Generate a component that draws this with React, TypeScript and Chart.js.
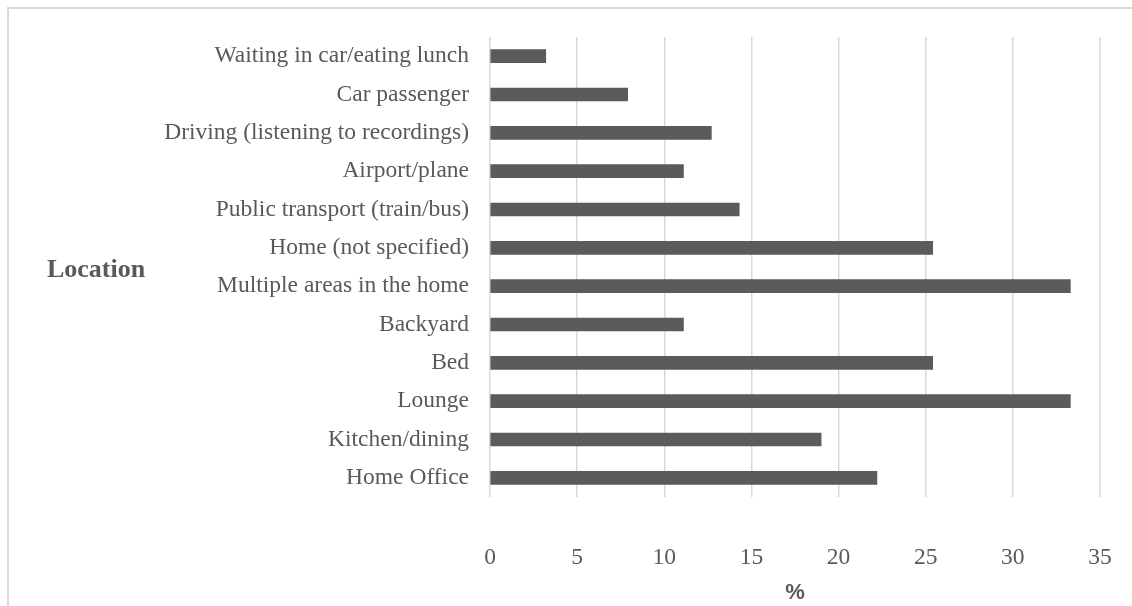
import React, { useEffect, useRef } from "react";
import { Chart, registerables } from "chart.js";

Chart.register(...registerables);

const categories = [
  "Waiting in car/eating lunch",
  "Car passenger",
  "Driving (listening to recordings)",
  "Airport/plane",
  "Public transport (train/bus)",
  "Home (not specified)",
  "Multiple areas in the home",
  "Backyard",
  "Bed",
  "Lounge",
  "Kitchen/dining",
  "Home Office",
];

const percentValues = [3.2, 7.9, 12.7, 11.1, 14.3, 25.4, 33.3, 11.1, 25.4, 33.3, 19.0, 22.2];

const xTickValues = [0, 5, 10, 15, 20, 25, 30, 35];

const yTitle = "Location";
const xTitle = "%";

const TEXT = "#595959";
const SERIF = "'Liberation Serif', 'Times New Roman', serif";

const locationTitlePlugin = {
  id: "locationTitle",
  afterDraw(chart: any) {
    const ctx = chart.ctx;
    ctx.save();
    ctx.fillStyle = TEXT;
    ctx.font = `bold 26px ${SERIF}`;
    ctx.textAlign = "center";
    ctx.textBaseline = "middle";
    ctx.fillText(yTitle, 96, 270);
    ctx.restore();
  },
};

export default function App() {
  const canvasRef = useRef<HTMLCanvasElement | null>(null);

  useEffect(() => {
    document.body.style.overflow = "hidden";
    const canvas = canvasRef.current;
    if (!canvas) return;
    const chart = new Chart(canvas, {
      type: "bar",
      data: {
        labels: categories,
        datasets: [
          {
            data: percentValues,
            backgroundColor: "#5b5b5b",
            borderWidth: 0,
            barThickness: 13,
          },
        ],
      },
      options: {
        indexAxis: "y",
        animation: false,
        responsive: false,
        devicePixelRatio: 1,
        layout: { padding: { top: 37, right: 32, left: 0, bottom: 0 } },
        plugins: {
          legend: { display: false },
          tooltip: { enabled: false },
        },
        scales: {
          x: {
            type: "linear",
            min: 0,
            max: 35,
            afterBuildTicks(scale: any) {
              scale.ticks = xTickValues.map((v) => ({ value: v }));
            },
            afterFit(scale: any) {
              scale.height = 109;
              scale.paddingLeft = 0;
              scale.paddingRight = 0;
            },
            grid: {
              color: "#d9d9d9",
              lineWidth: 1.5,
              drawTicks: false,
            },
            border: { display: false },
            ticks: {
              color: TEXT,
              padding: 47,
              font: { family: SERIF, size: 23.5 },
            },
            title: {
              display: true,
              text: xTitle,
              color: TEXT,
              font: { family: "'Liberation Sans', Arial, sans-serif", size: 22, weight: "bold" },
              padding: { top: 0, bottom: 0 },
            },
          },
          y: {
            afterFit(scale: any) {
              scale.width = 490;
            },
            grid: { display: false, drawTicks: false },
            border: { display: false },
            ticks: {
              color: TEXT,
              padding: 21,
              font: { family: SERIF, size: 23.5 },
            },
          },
        },
      },
      plugins: [locationTitlePlugin],
    });
    return () => chart.destroy();
  }, []);

  return (
    <div
      style={{
        position: "fixed",
        left: 0,
        top: 0,
        width: 1132,
        height: 606,
        overflow: "hidden",
        background: "#ffffff",
      }}
    >
      <div
        style={{
          position: "absolute",
          left: 7,
          top: 7,
          width: 1300,
          height: 800,
          border: "2px solid #d9d9d9",
        }}
      />
      <canvas
        ref={canvasRef}
        width={1132}
        height={606}
        style={{ position: "absolute", left: 0, top: 0, width: 1132, height: 606 }}
      />
    </div>
  );
}
